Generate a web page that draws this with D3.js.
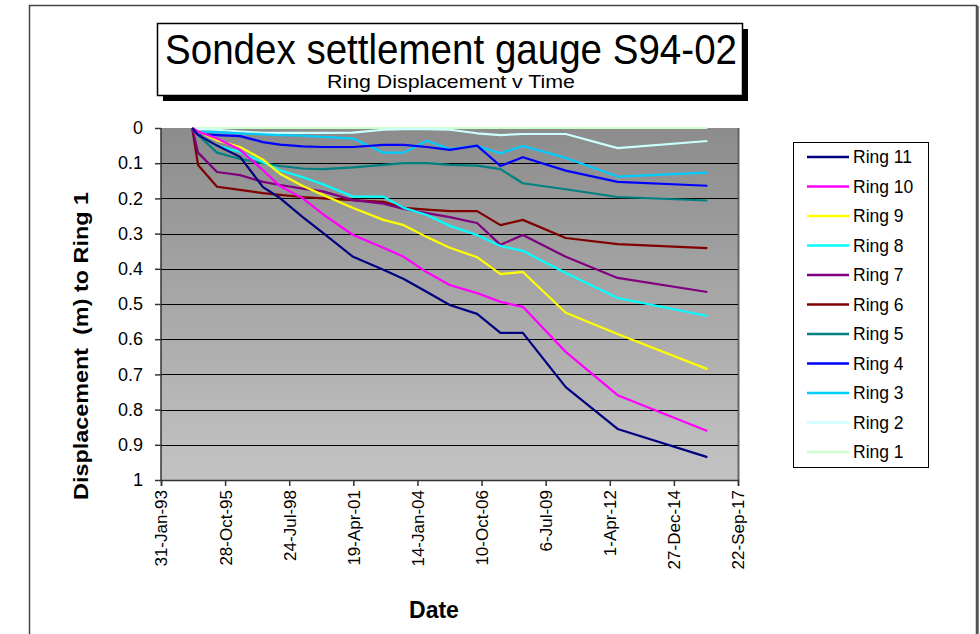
<!DOCTYPE html>
<html><head><meta charset="utf-8">
<script src="https://cdn.jsdelivr.net/npm/d3@7"></script>
<style>body{margin:0;background:#fff}svg{display:block;font-family:"Liberation Sans",Arial,sans-serif}</style>
</head><body><svg id="c" width="980" height="634"></svg>
<script>
const surveyDates = ["1994-06-02","1994-09-01","1995-06-24","1996-06-17","1997-06-10","1998-03-01","1999-02-20","2000-01-01","2001-04-15","2002-08-01","2003-06-15","2004-06-10","2005-06-01","2006-08-01","2007-08-01","2008-07-15","2010-05-15","2012-08-01","2016-06-01"];
const ring1  = [0,0,0,0,0,0,0,0,0,0,0,0,0,0,0,0,0,0,0];
const ring2  = [0,0.003,0.005,0.01,0.014,0.014,0.014,0.014,0.013,0.005,0.003,0.003,0.005,0.015,0.02,0.017,0.017,0.057,0.037];
const ring3  = [0,0.01,0.012,0.015,0.018,0.02,0.022,0.025,0.03,0.07,0.07,0.036,0.06,0.051,0.072,0.051,0.085,0.138,0.127];
const ring4  = [0,0.017,0.02,0.023,0.04,0.047,0.052,0.054,0.054,0.048,0.048,0.054,0.062,0.05,0.108,0.083,0.121,0.153,0.164];
const ring5  = [0,0.02,0.07,0.088,0.1,0.108,0.115,0.117,0.112,0.105,0.1,0.1,0.105,0.107,0.117,0.157,0.174,0.196,0.206];
const ring6  = [0,0.105,0.167,0.176,0.185,0.19,0.196,0.2,0.205,0.21,0.227,0.232,0.236,0.236,0.276,0.261,0.3125,0.33,0.341];
const ring7  = [0,0.07,0.125,0.134,0.153,0.162,0.172,0.18,0.205,0.215,0.23,0.242,0.253,0.27,0.332,0.304,0.366,0.426,0.466];
const ring8  = [0,0.02,0.05,0.068,0.097,0.12,0.14,0.16,0.195,0.195,0.227,0.247,0.278,0.304,0.335,0.349,0.412,0.483,0.534];
const ring9  = [0,0.01,0.035,0.054,0.09,0.13,0.165,0.19,0.227,0.261,0.276,0.31,0.34,0.367,0.415,0.409,0.525,0.585,0.685];
const ring10 = [0,0.01,0.03,0.062,0.12,0.165,0.2,0.245,0.304,0.34,0.366,0.41,0.446,0.469,0.494,0.508,0.636,0.759,0.861];
const ring11 = [0,0.02,0.05,0.082,0.168,0.199,0.253,0.298,0.366,0.403,0.429,0.466,0.503,0.528,0.582,0.582,0.736,0.855,0.935];
const seriesNames = ["Ring 11","Ring 10","Ring 9","Ring 8","Ring 7","Ring 6","Ring 5","Ring 4","Ring 3","Ring 2","Ring 1"];
const seriesValues = [ring11,ring10,ring9,ring8,ring7,ring6,ring5,ring4,ring3,ring2,ring1];
const seriesColors = ["#000080","#ff00ff","#ffff00","#00ffff","#800080","#800000","#008080","#0000ff","#00ccff","#ccffff","#ccffcc"];
const xTickLabels = ["31-Jan-93","28-Oct-95","24-Jul-98","19-Apr-01","14-Jan-04","10-Oct-06","6-Jul-09","1-Apr-12","27-Dec-14","22-Sep-17"];
const yTickValues = [0,0.1,0.2,0.3,0.4,0.5,0.6,0.7,0.8,0.9,1];

const svg = d3.select("#c");
const parse = d3.timeParse("%Y-%m-%d");
const dates = surveyDates.map(parse);
const x0 = parse("1993-01-31");
const tickDates = xTickLabels.map((_,i)=>d3.timeDay.offset(x0, i*1000));
const L=161,R=738,T=128,B=480;
const x = d3.scaleTime().domain([tickDates[0], tickDates[tickDates.length-1]]).range([L,R]);
const y = d3.scaleLinear().domain([0,1]).range([T,B]);

// outer frame
svg.append("rect").attr("x",29.5).attr("y",5.5).attr("width",947).attr("height",640).attr("fill","#fff").attr("stroke","#444").attr("stroke-width",1.5);
svg.append("line").attr("x1",977.5).attr("x2",977.5).attr("y1",6).attr("y2",634).attr("stroke","#555").attr("stroke-width",2.5);

// title box with shadow
svg.append("rect").attr("x",163).attr("y",29).attr("width",585).attr("height",72).attr("fill","#000");
svg.append("rect").attr("x",157.5).attr("y",23.5).attr("width",585).attr("height",72).attr("fill","#fff").attr("stroke","#000").attr("stroke-width",1.5);
svg.append("text").attr("x",165).attr("y",64).attr("font-size",43).attr("textLength",572).attr("lengthAdjust","spacingAndGlyphs").text("Sondex settlement gauge S94-02");
svg.append("text").attr("x",327).attr("y",88).attr("font-size",19).attr("textLength",248).attr("lengthAdjust","spacingAndGlyphs").text("Ring Displacement v Time");

// plot background gradient
const defs = svg.append("defs");
const g = defs.append("linearGradient").attr("id","bg").attr("x1",0).attr("x2",0).attr("y1",0).attr("y2",1);
g.append("stop").attr("offset","0%").attr("stop-color","#8c8c8c");
g.append("stop").attr("offset","100%").attr("stop-color","#c3c3c3");
svg.append("rect").attr("x",L).attr("y",T).attr("width",R-L).attr("height",B-T).attr("fill","url(#bg)");
svg.append("line").attr("x1",R+0.5).attr("x2",R+0.5).attr("y1",T).attr("y2",B).attr("stroke","#666").attr("stroke-width",2);

// gridlines
svg.append("g").selectAll("line").data(yTickValues.slice(1,-1)).join("line")
  .attr("x1",L).attr("x2",R).attr("y1",d=>Math.round(y(d))+0.5).attr("y2",d=>Math.round(y(d))+0.5)
  .attr("stroke","#000").attr("stroke-width",1.2);

// axes
const yAxis = d3.axisLeft(y).tickValues(yTickValues).tickFormat(d3.format("~g")).tickSize(6).tickPadding(12);
const ya = svg.append("g").attr("transform",`translate(${L},0)`).call(yAxis);
ya.selectAll("text").attr("font-size",18).attr("fill","#000").style("font-family","Liberation Sans, Arial, sans-serif");
ya.selectAll("line,path").attr("stroke","#333").attr("stroke-width",1.5);
ya.select(".domain").attr("d",`M0,${T}V${B}`);

const xAxis = d3.axisBottom(x).tickValues(tickDates).tickFormat((d,i)=>xTickLabels[i]).tickSize(6).tickPadding(8);
const xa = svg.append("g").attr("transform",`translate(0,${B})`).call(xAxis);
xa.selectAll("text").attr("font-size",17).attr("fill","#000").style("font-family","Liberation Sans, Arial, sans-serif")
  .attr("text-anchor","end").attr("dy","0.35em").attr("transform","rotate(-90)").attr("x",-10).attr("y",0);
xa.selectAll("line,path").attr("stroke","#333").attr("stroke-width",1.5);

svg.append("text").attr("transform","translate(88,346) rotate(-90) scale(1.17,1)").attr("text-anchor","middle")
  .attr("font-size",20).attr("font-weight","bold").text("Displacement \u00a0(m) to Ring 1");
svg.append("text").attr("x",434).attr("y",618).attr("text-anchor","middle").attr("font-size",23).attr("font-weight","bold").text("Date");

// lines
const line = d3.line().x((d,i)=>x(dates[i])).y(d=>y(d));
const order = d3.range(seriesNames.length).reverse();
svg.append("g").selectAll("path").data(order).join("path")
  .attr("d",i=>line(seriesValues[i])).attr("fill","none").attr("stroke",i=>seriesColors[i]).attr("stroke-width",2.2).attr("stroke-linejoin","round");

// legend
const lg = svg.append("g");
lg.append("rect").attr("x",793.5).attr("y",142.5).attr("width",135).attr("height",325).attr("fill","#fff").attr("stroke","#000").attr("stroke-width",1);
const items = lg.selectAll("g.it").data(seriesNames).join("g").attr("transform",(d,i)=>`translate(0,${157+i*29.5})`);
items.append("line").attr("x1",807).attr("x2",849).attr("y1",0).attr("y2",0).attr("stroke",(d,i)=>seriesColors[i]).attr("stroke-width",2.5);
items.append("text").attr("x",853).attr("y",0).attr("dy","0.35em").attr("font-size",17.5).text(d=>d);
</script></body></html>
